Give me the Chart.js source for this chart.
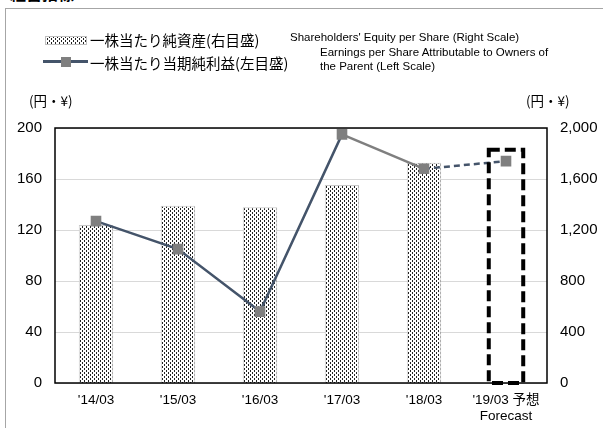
<!DOCTYPE html>
<html>
<head>
<meta charset="utf-8">
<script src="https://cdn.jsdelivr.net/npm/chart.js@4/dist/chart.umd.min.js"></script>
<style>
  body { margin: 0; width: 603px; height: 428px; background: #fff; overflow: hidden; position: relative; font-family: "Liberation Sans", Arial, sans-serif; }
  #frame { position: absolute; left: 5px; top: 8px; width: 620px; height: 440px; border-left: 1px solid #a6a6a6; border-top: 1px solid #a6a6a6; }
  #chartBox { position: absolute; left: 0; top: 0; width: 603px; height: 428px; }
  .t { position: absolute; white-space: nowrap; color: #000; }
  .jp { font-family: "Noto Sans CJK JP", sans-serif; }
</style>
</head>
<body>
<div class="t jp" style="left:10px; top:-19px; font-size:16px; font-weight:bold;">経営指標</div>
<div id="frame"></div>
<div id="chartBox"><canvas id="myChart" width="603" height="428"></canvas></div>

<canvas id="swatch1" width="42" height="9" style="position:absolute; left:45px; top:36px;"></canvas>
<div class="t jp" style="left:90px; top:29px; font-size:14.5px;">一株当たり純資産(右目盛)</div>
<div class="t" style="left:290px; top:31px; font-size:11.5px;">Shareholders' Equity per Share (Right Scale)</div>

<div style="position:absolute; left:43px; top:60px; width:45px; height:3px; background:#44546a;"></div>
<div style="position:absolute; left:61px; top:57px; width:10px; height:10px; background:#7f7f7f;"></div>
<div class="t jp" style="left:90px; top:52px; font-size:14.5px;">一株当たり当期純利益(左目盛)</div>
<div class="t" style="left:320px; top:45px; font-size:11.5px; line-height:14px;">Earnings per Share Attributable to Owners of<br>the Parent (Left Scale)</div>

<div class="t jp" style="left:29px; top:90px; font-size:13.5px;">(円・¥)</div>
<div class="t jp" style="left:526px; top:90px; font-size:13.5px;">(円・¥)</div>

<script>
'use strict';

// data
let periods = [["'14/03"], ["'15/03"], ["'16/03"], ["'17/03"], ["'18/03"], ["'19/03 予想", 'Forecast']];
let equityPerShare = [1240, 1390, 1378, 1553, 1728, 1830];   // right scale, last one = forecast box
let earningsPerShare = [127, 105, 56, 195, 168, 174];        // left scale
let leftTicks = [0, 40, 80, 120, 160, 200];
let rightTicks = [0, 400, 800, 1200, 1600, 2000];

let slate = '#44546a';
let grey = '#7f7f7f';

// dotted fill like the excel pattern
function makeDots() {
    let c = document.createElement('canvas');
    c.width = 4; c.height = 4;
    let g = c.getContext('2d');
    g.fillStyle = '#ffffff';
    g.fillRect(0, 0, 4, 4);
    g.fillStyle = '#222222';
    g.fillRect(0, 0, 1, 2);
    g.fillRect(2, 2, 1, 2);
    return c;
}
let dotTile = makeDots();

let sw = document.getElementById('swatch1').getContext('2d');
sw.fillStyle = sw.createPattern(dotTile, 'repeat');
sw.fillRect(0, 0, 42, 9);
sw.strokeStyle = '#bfbfbf';
sw.strokeRect(0.5, 0.5, 41, 8);

let ctx = document.getElementById('myChart').getContext('2d');
let dots = ctx.createPattern(dotTile, 'repeat');

let lastIdx = equityPerShare.length - 1;
let barFills = equityPerShare.map((v, i) => i === lastIdx ? 'rgba(0,0,0,0)' : dots);
let barBorders = equityPerShare.map((v, i) => i === lastIdx ? 'rgba(0,0,0,0)' : '#c8c8c8');

// plot frame + dashed forecast box
let extras = {
    id: 'extras',
    afterDatasetsDraw(chart) {
        let a = chart.chartArea;
        let c = chart.ctx;
        c.save();
        let bar = chart.getDatasetMeta(0).data[lastIdx];
        c.strokeStyle = '#000';
        c.lineWidth = 4;
        c.setLineDash([11, 5]);
        c.strokeRect(bar.x - bar.width / 2, bar.y, bar.width, bar.base - bar.y);
        c.setLineDash([]);
        c.lineWidth = 1.5;
        c.strokeRect(a.left, a.top, a.right - a.left, a.bottom - a.top);
        c.restore();
    }
};

let myChart = new Chart(ctx, {
    type: 'bar',
    data: {
        labels: periods,
        datasets: [{
            label: '一株当たり純資産(右目盛)',
            data: equityPerShare,
            yAxisID: 'y2',
            backgroundColor: barFills,
            borderColor: barBorders,
            borderWidth: 1,
            barPercentage: 0.42,
            categoryPercentage: 1,
            order: 2
        }, {
            type: 'line',
            label: '一株当たり当期純利益(左目盛)',
            data: earningsPerShare,
            yAxisID: 'y',
            borderColor: slate,
            borderWidth: 2.5,
            pointStyle: 'rect',
            pointRadius: 7.5,
            pointBorderWidth: 0,
            pointBackgroundColor: grey,
            tension: 0,
            order: 1,
            segment: {
                borderColor: s => s.p0DataIndex === 3 ? grey : slate,
                borderDash: s => s.p0DataIndex === 4 ? [6, 4] : undefined
            }
        }]
    },
    options: {
        responsive: false,
        animation: false,
        layout: { padding: { top: 128, left: 0, right: 0, bottom: 0 } },
        plugins: { legend: { display: false }, tooltip: { enabled: false } },
        scales: {
            x: {
                grid: { display: false, drawTicks: false },
                border: { display: false },
                ticks: {
                    color: '#000',
                    padding: 9,
                    maxRotation: 0,
                    font: { family: 'Liberation Sans, Noto Sans CJK JP', size: 13.5 }
                },
                afterFit: s => { s.height = 45; }
            },
            y: {
                position: 'left',
                min: 0, max: 200,
                afterBuildTicks: s => { s.ticks = leftTicks.map(v => ({ value: v })); },
                grid: { color: '#d9d9d9', lineWidth: 1, drawTicks: false },
                border: { display: false },
                ticks: {
                    color: '#000',
                    padding: 13,
                    font: { family: 'Liberation Sans', size: 15 }
                },
                afterFit: s => { s.width = 55; }
            },
            y2: {
                position: 'right',
                min: 0, max: 2000,
                afterBuildTicks: s => { s.ticks = rightTicks.map(v => ({ value: v })); },
                grid: { display: false, drawTicks: false },
                border: { display: false },
                ticks: {
                    color: '#000',
                    padding: 13,
                    font: { family: 'Liberation Sans', size: 15 },
                    callback: v => v.toLocaleString('en-US')
                },
                afterFit: s => { s.width = 56; }
            }
        }
    },
    plugins: [extras]
});
</script>
</body>
</html>
